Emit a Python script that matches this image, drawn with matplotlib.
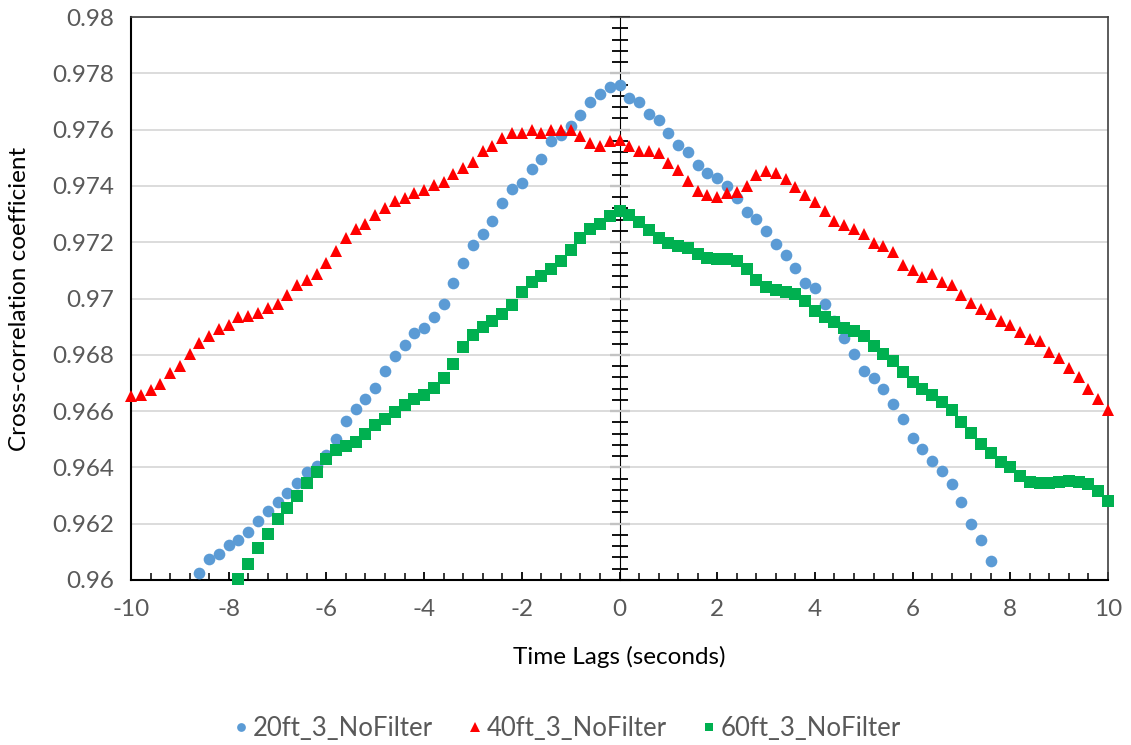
import numpy as np
import matplotlib
matplotlib.use("Agg")
import matplotlib.pyplot as plt
from matplotlib.ticker import MultipleLocator, FuncFormatter

plt.rcParams['font.family'] = ['Lato', 'DejaVu Sans']
plt.rcParams['axes.unicode_minus'] = False

# ---- data ----
lags_20 = np.round(np.arange(-8.6, 7.6001, 0.2), 1)
vals_20 = [0.960248, 0.960745, 0.960928, 0.961229, 0.961425, 0.961712, 0.962105, 0.962444,
           0.962758, 0.963098, 0.963451, 0.963843, 0.964039, 0.964431, 0.965020, 0.965634,
           0.966065, 0.966431, 0.966824, 0.967425, 0.967948, 0.968340, 0.968784, 0.968967,
           0.969333, 0.969791, 0.970536, 0.971255, 0.971908, 0.972301, 0.972758, 0.973386,
           0.973895, 0.974105, 0.974588, 0.974941, 0.975608, 0.975804, 0.976131, 0.976523,
           0.976980, 0.977268, 0.977503, 0.977569, 0.977111, 0.976967, 0.976549, 0.976327,
           0.975869, 0.975451, 0.975190, 0.974745, 0.974458, 0.974275, 0.974013, 0.973582,
           0.973059, 0.972837, 0.972405, 0.971948, 0.971529, 0.971072, 0.970549, 0.970379,
           0.969817, 0.969203, 0.968614, 0.968026, 0.967438, 0.967176, 0.966784, 0.966235,
           0.965712, 0.965059, 0.964667, 0.964235, 0.963869, 0.963412, 0.962758, 0.961987,
           0.961425, 0.960680]

lags_40 = np.round(np.arange(-10.0, 10.0001, 0.2), 1)
vals_40 = [0.966525, 0.966564, 0.966747, 0.966956, 0.967348, 0.967609, 0.968028, 0.968420,
           0.968655, 0.968917, 0.969073, 0.969335, 0.969387, 0.969492, 0.969649, 0.969793,
           0.970119, 0.970472, 0.970668, 0.970877, 0.971269, 0.971687, 0.972145, 0.972472,
           0.972629, 0.972960, 0.973216, 0.973451, 0.973569, 0.973739, 0.973843, 0.974039,
           0.974144, 0.974431, 0.974627, 0.974850, 0.975242, 0.975412, 0.975712, 0.975895,
           0.975895, 0.975974, 0.975895, 0.975974, 0.976000, 0.976000, 0.975765, 0.975516,
           0.975412, 0.975608, 0.975634, 0.975412, 0.975242, 0.975242, 0.975176, 0.974824,
           0.974562, 0.974170, 0.973804, 0.973673, 0.973621, 0.973752, 0.973778, 0.974013,
           0.974392, 0.974536, 0.974458, 0.974261, 0.973948, 0.973686, 0.973412, 0.973098,
           0.972758, 0.972601, 0.972471, 0.972301, 0.971987, 0.971882, 0.971660, 0.971190,
           0.971007, 0.970771, 0.970863, 0.970601, 0.970471, 0.970118, 0.969856, 0.969634,
           0.969464, 0.969203, 0.969046, 0.968810, 0.968549, 0.968484, 0.968092, 0.967895,
           0.967529, 0.967203, 0.966771, 0.966418, 0.966039]

lags_60 = np.round(np.arange(-7.8, 10.0001, 0.2), 1)
vals_60 = [0.960052, 0.960575, 0.961124, 0.961647, 0.962170, 0.962562, 0.962980, 0.963451,
           0.963843, 0.964288, 0.964627, 0.964758, 0.964889, 0.965203, 0.965516, 0.965725,
           0.965974, 0.966222, 0.966418, 0.966588, 0.966824, 0.967176, 0.967660, 0.968261,
           0.968706, 0.968980, 0.969203, 0.969438, 0.969765, 0.970248, 0.970601, 0.970797,
           0.971059, 0.971333, 0.971712, 0.972157, 0.972471, 0.972629, 0.972928, 0.973124,
           0.972954, 0.972732, 0.972444, 0.972144, 0.971987, 0.971882, 0.971791, 0.971582,
           0.971451, 0.971399, 0.971399, 0.971346, 0.971059, 0.970641, 0.970405, 0.970288,
           0.970222, 0.970157, 0.969922, 0.969556, 0.969359, 0.969163, 0.968941, 0.968837,
           0.968680, 0.968314, 0.968026, 0.967765, 0.967399, 0.967046, 0.966784, 0.966588,
           0.966327, 0.966026, 0.965608, 0.965216, 0.964824, 0.964497, 0.964209, 0.964000,
           0.963712, 0.963490, 0.963451, 0.963451, 0.963490, 0.963516, 0.963490, 0.963425,
           0.963150, 0.962824]

series_names = ['20ft_3_NoFilter', '40ft_3_NoFilter', '60ft_3_NoFilter']

# ---- figure ----
FS = 17.5
fig = plt.figure(figsize=(11.31, 7.45), dpi=100)
ax = fig.add_axes([131/1131, 1-580/745, (1108-131)/1131, (580-17)/745])

ax.plot(lags_20, vals_20, linestyle='none', marker='o', markersize=8.4,
        color='#5b9bd5', markeredgewidth=0, label=series_names[0], clip_on=False, zorder=3)
ax.plot(lags_40, vals_40, linestyle='none', marker='^', markersize=9.2,
        color='#ff0000', markeredgewidth=0, label=series_names[1], clip_on=False, zorder=4)
ax.plot(lags_60, vals_60, linestyle='none', marker='s', markersize=8.5,
        color='#00b050', markeredgewidth=0, label=series_names[2], clip_on=False, zorder=5)

ax.set_xlim(-10, 10)
ax.set_ylim(0.96, 0.98)

ax.xaxis.set_major_locator(MultipleLocator(2))
ax.xaxis.set_minor_locator(MultipleLocator(0.4))
ax.yaxis.set_major_locator(MultipleLocator(0.002))
ax.yaxis.set_major_formatter(FuncFormatter(lambda v, p: ('%.3f' % v).rstrip('0').rstrip('.')))
ax.xaxis.set_major_formatter(FuncFormatter(lambda v, p: '%d' % round(v)))

ax.grid(axis='y', color='#d9d9d9', linewidth=1.3, zorder=0)
ax.set_axisbelow(True)

ax.tick_params(axis='x', which='major', direction='in', length=6, width=1.3,
               colors='black', labelcolor='#595959', labelsize=FS, pad=14)
ax.tick_params(axis='x', which='minor', direction='in', length=5, width=1.1, colors='black')
ax.tick_params(axis='y', which='major', length=0, labelcolor='#595959', labelsize=FS, pad=12)

for s in ['left', 'bottom']:
    ax.spines[s].set_color('black')
    ax.spines[s].set_linewidth(1.5)
for s in ['top', 'right']:
    ax.spines[s].set_color('#404040')
    ax.spines[s].set_linewidth(1.2)

# vertical value axis crossing at x = 0
sec = ax.secondary_yaxis(0.5)
sec.spines['left'].set_color('black')
sec.spines['left'].set_linewidth(1.5)
sec.yaxis.set_major_locator(MultipleLocator(0.002))
sec.yaxis.set_minor_locator(MultipleLocator(0.0004))
sec.tick_params(axis='y', which='major', direction='inout', length=14, width=1.5,
                labelleft=False, colors='black')
sec.tick_params(axis='y', which='minor', direction='inout', length=11, width=1.3,
                colors='black')
sec.set_yticklabels([])

ax.set_xlabel('Time Lags (seconds)', fontsize=FS, color='black')
ax.set_ylabel('Cross-correlation coefficient', fontsize=FS, color='black')
ax.xaxis.set_label_coords(0.5, (580-657)/563, transform=ax.transAxes)
ax.xaxis.label.set_va('center')
ax.yaxis.set_label_coords((20-131)/977, 0.5, transform=ax.transAxes)
ax.yaxis.label.set_va('center')

leg = fig.legend(loc='center', bbox_to_anchor=(0.5, 1-728/745), ncol=3, frameon=False,
                 fontsize=18.5, handletextpad=0.0, columnspacing=1.2, markerscale=0.75,
                 handlelength=0.9)
for t in leg.get_texts():
    t.set_color('#595959')

fig.savefig('out.png', dpi=100)
